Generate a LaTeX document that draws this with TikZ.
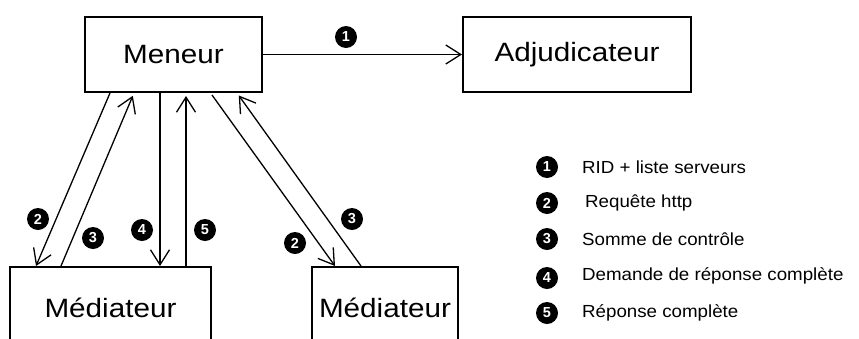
\documentclass[tikz,border=0pt]{standalone}
\usepackage{fontspec}
\setmainfont{Liberation Sans}
\newfontfamily\boxfont[FakeStretch=1.12]{Liberation Sans}
\newfontfamily\legfont[FakeStretch=1.07]{Liberation Sans}
\usetikzlibrary{arrows.meta,calc}
\begin{document}
\begin{tikzpicture}[x=1pt,y=-1pt,
 box/.style={draw, line width=2pt, inner sep=0pt, font=\boxfont\fontsize{26.5}{30}\selectfont},
 conn/.style={line width=1.3pt, -{Straight Barb[length=15pt,width=19pt,line width=1.3pt]}},
 upconn/.style={conn, shorten >=3pt},
 num/.style={circle, fill=black, text=white, inner sep=0pt, minimum size=22pt, font=\bfseries\fontsize{14.5}{14.5}\selectfont},
 leg/.style={anchor=west, inner sep=0pt, font=\legfont\fontsize{17.5}{20}\selectfont}]
\useasboundingbox (0,0) rectangle (859,338);
\clip (0,0) rectangle (859,338);
\node[box, minimum width=177pt, minimum height=75pt] (men) at (173.5,54.5) {Meneur};
\node[box, minimum width=228pt, minimum height=75pt] (adj) at (577,54.5) {Adjudicateur};
\node[box, minimum width=201pt, minimum height=82pt] (medl) at (110.5,308) {Médiateur};
\node[box, minimum width=146pt, minimum height=82pt] (medr) at (385,308) {Médiateur};
% arrow 1
\draw[conn] (men.east) -- (adj.west);
\node[num] (n1) at (346,37) {1};
% left mediator
\draw[conn] ($(men.south west)+(26,0)$) -- ($(medl.north west)+(27,0)$);
\draw[upconn] ($(medl.north west)+(52,0)$) -- ($(men.south west)+(50,0)$);
\draw[conn] ($(men.south west)+(76,0)$) -- ($(medl.north west)+(151,0)$);
\draw[upconn] ($(medl.north west)+(177,0)$) -- ($(men.south west)+(102,0)$);
% right mediator
\draw[conn] ($(men.south west)+(128,2)$) -- ($(medr.north west)+(24,0)$);
\draw[upconn] ($(medr.north west)+(50,0)$) -- ($(men.south west)+(153,0)$);
% number labels
\node[num] (l2) at (38,219) {2};
\node[num] (l3) at (93,238) {3};
\node[num] (l4) at (142,230) {4};
\node[num] (l5) at (205,230) {5};
\node[num] (r2) at (295,243) {2};
\node[num] (r3) at (352,219) {3};
% legend
\node[num] (k1) at (547,167) {1};
\node[num] (k2) at (547,203) {2};
\node[num] (k3) at (547,239) {3};
\node[num] (k4) at (547,278) {4};
\node[num] (k5) at (547,313) {5};
\node[leg] (t1) at (582,167) {RID + liste serveurs};
\node[leg] (t2) at (585,203) {Requête http};
\node[leg] (t3) at (582,239) {Somme de contrôle};
\node[leg] (t4) at (582,276) {Demande de réponse complète};
\node[leg] (t5) at (582,313) {Réponse complète};
\end{tikzpicture}
\end{document}
